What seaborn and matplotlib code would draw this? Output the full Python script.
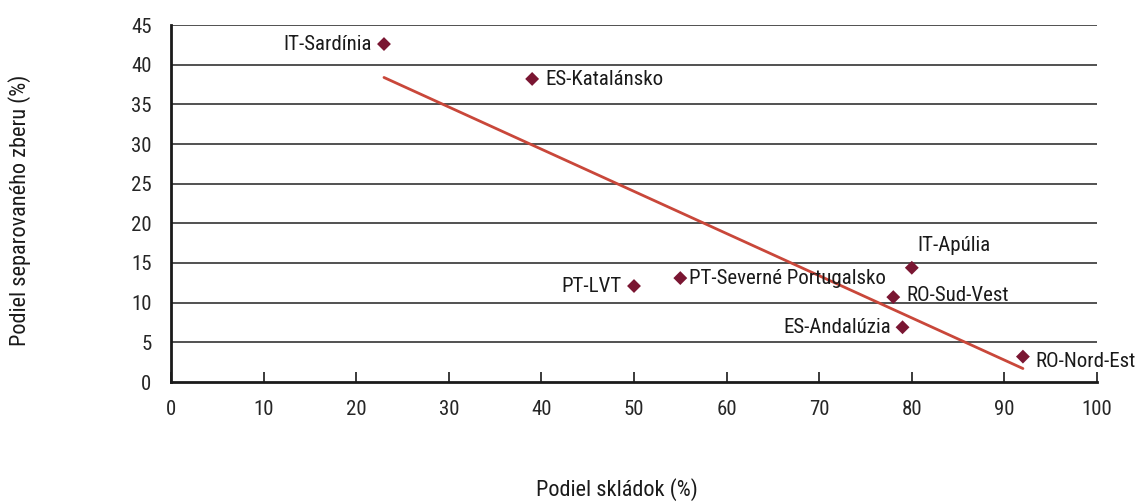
import numpy as np
import pandas as pd
import matplotlib
matplotlib.use("Agg")
import matplotlib.pyplot as plt
import seaborn as sns
from matplotlib import font_manager

regions = ["IT-Sardínia", "ES-Katalánsko", "PT-LVT", "PT-Severné Portugalsko",
           "IT-Apúlia", "RO-Sud-Vest", "ES-Andalúzia", "RO-Nord-Est"]
landfill = [23, 39, 50, 55, 80, 78, 79, 92]
separate = [42.6, 38.2, 12.1, 13.1, 14.4, 10.7, 6.9, 3.2]
x_ticks = [0, 10, 20, 30, 40, 50, 60, 70, 80, 90, 100]
y_ticks = [0, 5, 10, 15, 20, 25, 30, 35, 40, 45]

df = pd.DataFrame({"x": landfill, "y": separate, "label": regions})

sns.set_theme(style="white")
avail = {f.name for f in font_manager.fontManager.ttflist}
cands = ["Roboto Condensed", "Liberation Sans Narrow", "Liberation Sans", "DejaVu Sans"]
fam = [c for c in cands if c in avail]
plt.rcParams["font.family"] = fam
narrow = fam[0] in ("Roboto Condensed", "Liberation Sans Narrow")
FS = 15 if narrow else 12
FSL = 16 if narrow else 12.5

fig = plt.figure(figsize=(11.41, 5.03), dpi=100)
ax = fig.add_axes([171/1141, 1 - 382/503, (1097-171)/1141, (382-25)/503])

ax.set_xlim(0, 100)
ax.set_ylim(0, 45)
ax.set_yticks(y_ticks)
ax.set_xticks(x_ticks)
for yv in y_ticks[1:]:
    ax.axhline(yv, color="#222222", lw=1.1, zorder=0)

sns.regplot(data=df, x="x", y="y", ax=ax, scatter=False, ci=None, truncate=True,
            line_kws={"color": "#c9473a", "lw": 2.0})
sns.scatterplot(data=df, x="x", y="y", ax=ax, marker="D", s=50, color="#7a1632",
                edgecolor="none", zorder=3, legend=False)

offsets = {
    "IT-Sardínia": (-12, 0, "right", "center"),
    "ES-Katalánsko": (13, -1, "left", "center"),
    "PT-LVT": (-12, 0, "right", "center"),
    "PT-Severné Portugalsko": (9, 0, "left", "center"),
    "IT-Apúlia": (6, 22, "left", "center"),
    "RO-Sud-Vest": (13, 2, "left", "center"),
    "ES-Andalúzia": (-11, 0, "right", "center"),
    "RO-Nord-Est": (12, -5, "left", "center"),
}
for lab, xv, yv in zip(regions, landfill, separate):
    dx, dy, ha, va = offsets[lab]
    ax.annotate(lab, (xv, yv), xytext=(dx, dy), textcoords="offset pixels",
                ha=ha, va=va, fontsize=FS, color="#1a1a1a")

for s in ["top", "right"]:
    ax.spines[s].set_visible(False)
for s in ["left", "bottom"]:
    ax.spines[s].set_color("#1a1a1a")
    ax.spines[s].set_linewidth(2)

ax.tick_params(axis="x", direction="in", length=7, width=1.2, color="#1a1a1a",
               pad=13, labelsize=FS, bottom=True)
ax.tick_params(axis="y", length=0, pad=14, labelsize=FS, left=False)
ax.set_xlabel("")
ax.set_ylabel("")
fig.text(617/1141, 1 - 490/503, "Podiel skládok (%)", ha="center", va="center",
         fontsize=FSL, color="#1a1a1a")
fig.text(20/1141, 1 - 210/503, "Podiel separovaného zberu (%)", ha="center", va="center",
         rotation=90, fontsize=FSL, color="#1a1a1a")

fig.savefig("out.png", dpi=100)
